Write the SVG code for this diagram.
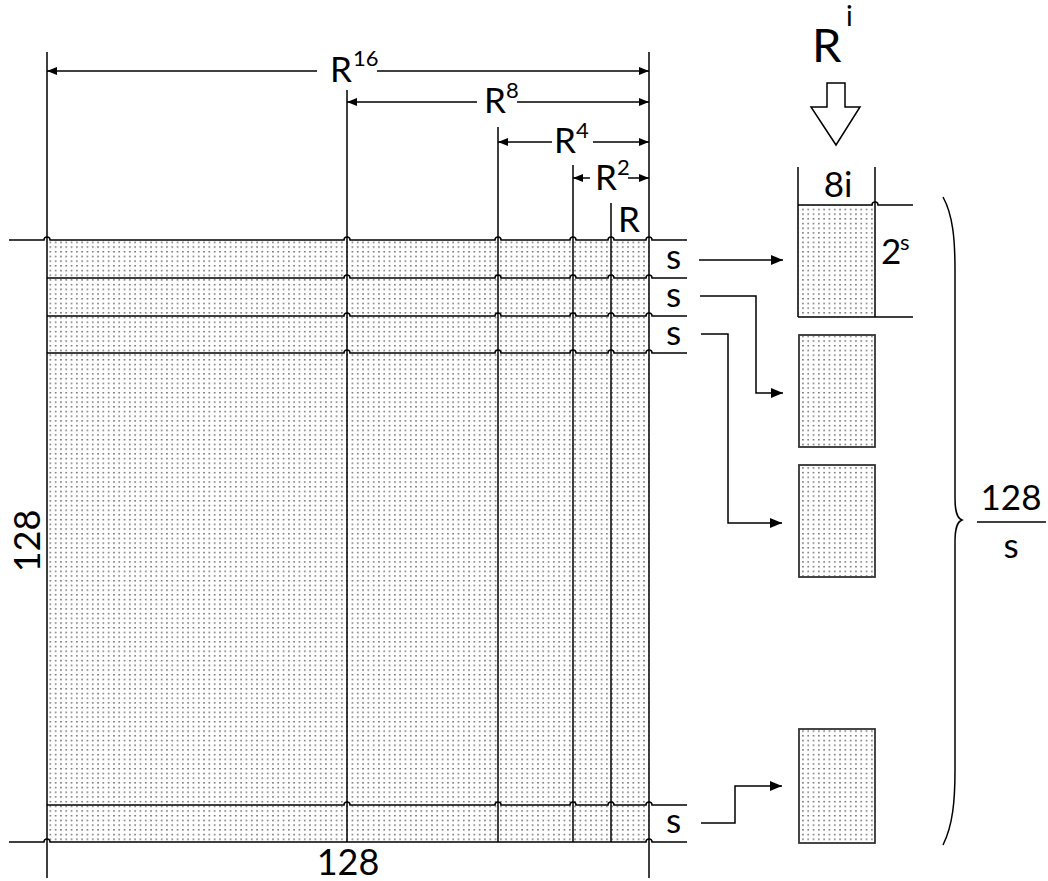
<svg xmlns="http://www.w3.org/2000/svg" width="1048" height="881" viewBox="0 0 1048 881">
<defs>
<pattern id="dots" width="5.3" height="4.7" patternUnits="userSpaceOnUse">
<rect x="2" y="2" width="1.3" height="1.3" fill="#333"/>
</pattern>
<marker id="ah" viewBox="0 0 10 8" refX="10" refY="4" markerWidth="10" markerHeight="8" markerUnits="userSpaceOnUse" orient="auto">
<path d="M0,0 L10,4 L0,8 z" fill="#000"/>
</marker>
<marker id="ah2" viewBox="0 0 12 10" refX="12" refY="5" markerWidth="12" markerHeight="10" markerUnits="userSpaceOnUse" orient="auto">
<path d="M0,0 L12,5 L0,10 z" fill="#000"/>
</marker>
</defs>
<style>
.ln{fill:none;stroke:#000;stroke-width:1.5}
.box{fill:url(#dots);stroke:#333;stroke-width:1.8}
.t{font-family:Lato,"Liberation Sans",sans-serif;font-size:35px;fill:#000}
.sup{font-family:Lato,"Liberation Sans",sans-serif;font-size:22px;fill:#000}
</style>
<rect width="1048" height="881" fill="#fff"/>

<g id="matrix">
<rect x="47" y="240" width="602" height="602" fill="url(#dots)"/>
<path class="ln" d="M47,52 V878 M649,52 V878 M347,90 V842 M498,127 V842 M573,165 V842 M611,203 V842"/>
<path class="ln" d="M9,240 H44 A3,3 0 0 1 50,240 H344 A3,3 0 0 1 350,240 H495 A3,3 0 0 1 501,240 H570 A3,3 0 0 1 576,240 H608 A3,3 0 0 1 614,240 H646 A3,3 0 0 1 652,240 H687"/>
<path class="ln" d="M47,278 H344 A3,3 0 0 1 350,278 H495 A3,3 0 0 1 501,278 H570 A3,3 0 0 1 576,278 H608 A3,3 0 0 1 614,278 H646 A3,3 0 0 1 652,278 H687"/>
<path class="ln" d="M47,316 H344 A3,3 0 0 1 350,316 H495 A3,3 0 0 1 501,316 H570 A3,3 0 0 1 576,316 H608 A3,3 0 0 1 614,316 H646 A3,3 0 0 1 652,316 H687"/>
<path class="ln" d="M47,353 H344 A3,3 0 0 1 350,353 H495 A3,3 0 0 1 501,353 H570 A3,3 0 0 1 576,353 H608 A3,3 0 0 1 614,353 H646 A3,3 0 0 1 652,353 H687"/>
<path class="ln" d="M47,805 H344 A3,3 0 0 1 350,805 H495 A3,3 0 0 1 501,805 H570 A3,3 0 0 1 576,805 H608 A3,3 0 0 1 614,805 H646 A3,3 0 0 1 652,805 H687"/>
<path class="ln" d="M9,842 H44 A3,3 0 0 1 50,842 H646 A3,3 0 0 1 652,842 H687"/>
</g>

<g id="dimensions">
<path class="ln" d="M317,71 H47" marker-end="url(#ah)"/>
<path class="ln" d="M377,71 H649" marker-end="url(#ah)"/>
<path class="ln" d="M477,102 H347" marker-end="url(#ah)"/>
<path class="ln" d="M517,102 H649" marker-end="url(#ah)"/>
<path class="ln" d="M552,142 H498" marker-end="url(#ah)"/>
<path class="ln" d="M593,142 H649" marker-end="url(#ah)"/>
<path class="ln" d="M590,178 H573" marker-end="url(#ah)"/>
<path class="ln" d="M628,178 H649" marker-end="url(#ah)"/>
<text class="t" x="330" y="82">R</text><text class="sup" x="353" y="66">16</text>
<text class="t" x="484" y="113">R</text><text class="sup" x="506" y="98">8</text>
<text class="t" x="554" y="153">R</text><text class="sup" x="576" y="138">4</text>
<text class="t" x="595" y="190">R</text><text class="sup" x="617" y="175">2</text>
<text class="t" x="618" y="232">R</text>
</g>

<g id="labels">
<text class="t" x="666" y="269">s</text>
<text class="t" x="666" y="307">s</text>
<text class="t" x="666" y="345">s</text>
<text class="t" x="666" y="833">s</text>
<text class="t" x="348" y="875" text-anchor="middle" style="font-size:36px">128</text>
<text class="t" transform="translate(40,541) rotate(-90)" text-anchor="middle" style="font-size:36px">128</text>
</g>

<g id="ri">
<text class="t" x="812" y="62" style="font-size:47px">R</text>
<text class="sup" x="846" y="26" style="font-size:28px">i</text>
<path d="M827,83 H845 V107 H860 L836,145 L811,107 H827 Z" fill="#fff" stroke="#000" stroke-width="1.5"/>
</g>

<g id="block1">
<rect x="798" y="205" width="77" height="112" fill="url(#dots)"/>
<path class="ln" d="M798,167 V317 M875,167 V317"/>
<path class="ln" d="M798,205 H872 A3,3 0 0 1 878,205 H913 M798,317 H913"/>
<text class="t" x="838" y="197" text-anchor="middle">8i</text>
<text class="t" x="881" y="264">2</text>
<text class="sup" x="900" y="250">s</text>
</g>
<g id="block2"><rect class="box" x="799" y="335" width="76" height="112"/></g>
<g id="block3"><rect class="box" x="799" y="465" width="76" height="112"/></g>
<g id="block4"><rect class="box" x="799" y="729" width="76" height="114"/></g>

<g id="connectors">
<path class="ln" d="M699,260 H783" marker-end="url(#ah2)"/>
<path class="ln" d="M700,296 H756 V393 H783" marker-end="url(#ah2)"/>
<path class="ln" d="M701,334 H728 V523 H782" marker-end="url(#ah2)"/>
<path class="ln" d="M701,823 H735 V786 H782" marker-end="url(#ah2)"/>
</g>

<g id="brace">
<path class="ln" d="M943,197 C953,215 955,240 955,270 L955,498 C955,512 957,518 962,520 C957,522 955,528 955,542 L955,770 C955,800 953,825 943,845"/>
<text class="t" x="1011" y="510" text-anchor="middle">128</text>
<path class="ln" d="M977,522 H1046"/>
<text class="t" x="1011" y="558" text-anchor="middle">s</text>
</g>
</svg>
